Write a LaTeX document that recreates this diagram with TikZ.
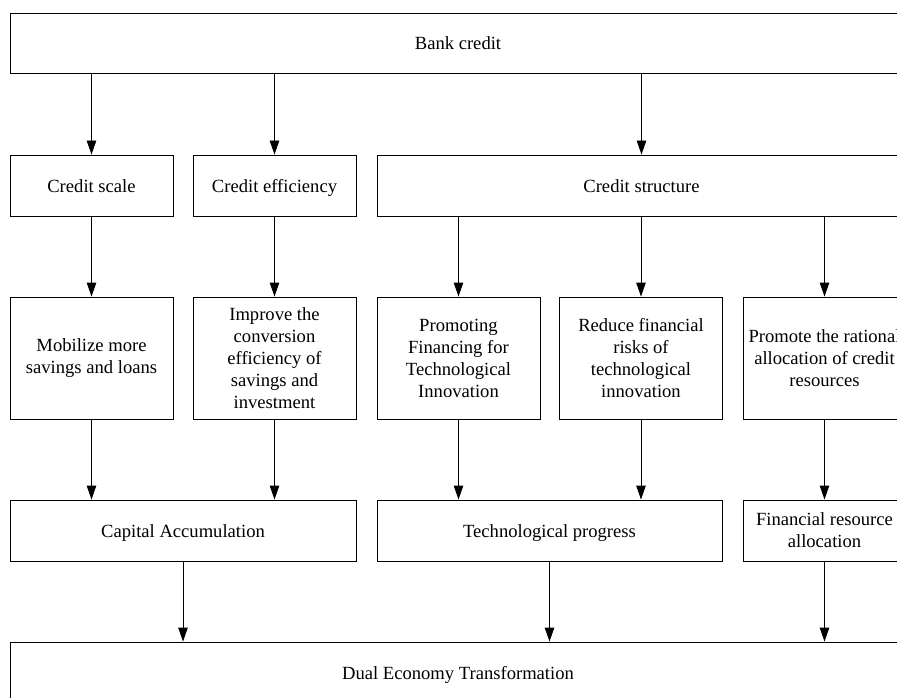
\documentclass[tikz,border=0pt]{standalone}
\usepackage{fontspec}
\setmainfont{Liberation Serif}
\usetikzlibrary{arrows.meta}
\begin{document}
\begin{tikzpicture}[x=1pt,y=-1pt,
  box/.style={draw=black, line width=0.9pt, inner sep=0pt, align=center,
    font=\fontsize{18.6}{22}\selectfont},
  rowa/.style={box, minimum height=61pt},
  oneline/.style={text height=17pt, text depth=3pt},
  rowb/.style={box, minimum height=122pt, minimum width=163pt},
  arr/.style={line width=0.9pt, -{Triangle[width=9.5pt,length=14pt]}}]
\useasboundingbox (0,0) rectangle (897,698);
\clip (0,0) rectangle (897,698);
% row 1
\node[box, oneline, minimum width=896pt, minimum height=60pt] (bank) at (458,43) {Bank credit};
% row 2
\node[rowa, oneline, minimum width=163pt] (scale) at (91.5,185.5) {Credit scale};
\node[rowa, oneline, minimum width=163pt] (eff) at (274.5,185.5) {Credit efficiency};
\node[rowa, oneline, minimum width=529pt] (struct) at (641.5,185.5) {Credit structure};
% row 3
\node[rowb] (mob) at (91.5,358) {Mobilize more\\savings and loans};
\node[rowb] (imp) at (274.5,358) {Improve the\\conversion\\efficiency of\\savings and\\investment};
\node[rowb] (prom) at (458.5,358) {Promoting\\Financing for\\Technological\\Innovation};
\node[rowb] (red) at (641,358) {Reduce financial\\risks of\\technological\\innovation};
\node[rowb] (rat) at (824.5,358) {Promote the rational\\allocation of credit\\resources};
% row 4
\node[rowa, oneline, minimum width=346pt] (cap) at (183,530.5) {Capital Accumulation};
\node[rowa, oneline, minimum width=345pt] (tech) at (549.5,530.5) {Technological progress};
\node[rowa, minimum width=163pt] (fin) at (824.5,530.5) {Financial resource\\allocation};
% row 5
\node[rowa, oneline, minimum width=896pt] (dual) at (458,672.5) {Dual Economy Transformation};
% arrows
\draw[arr] (scale.north |- bank.south) -- (scale.north);
\draw[arr] (eff.north |- bank.south) -- (eff.north);
\draw[arr] (struct.north |- bank.south) -- (struct.north);
\draw[arr] (scale.south) -- (mob.north);
\draw[arr] (eff.south) -- (imp.north);
\draw[arr] (prom.north |- struct.south) -- (prom.north);
\draw[arr] (red.north |- struct.south) -- (red.north);
\draw[arr] (rat.north |- struct.south) -- (rat.north);
\draw[arr] (mob.south) -- (mob.south |- cap.north);
\draw[arr] (imp.south) -- (imp.south |- cap.north);
\draw[arr] (prom.south) -- (prom.south |- tech.north);
\draw[arr] (red.south) -- (red.south |- tech.north);
\draw[arr] (rat.south) -- (fin.north);
\draw[arr] (cap.south) -- (cap.south |- dual.north);
\draw[arr] (tech.south) -- (tech.south |- dual.north);
\draw[arr] (fin.south) -- (fin.south |- dual.north);
\end{tikzpicture}
\end{document}
